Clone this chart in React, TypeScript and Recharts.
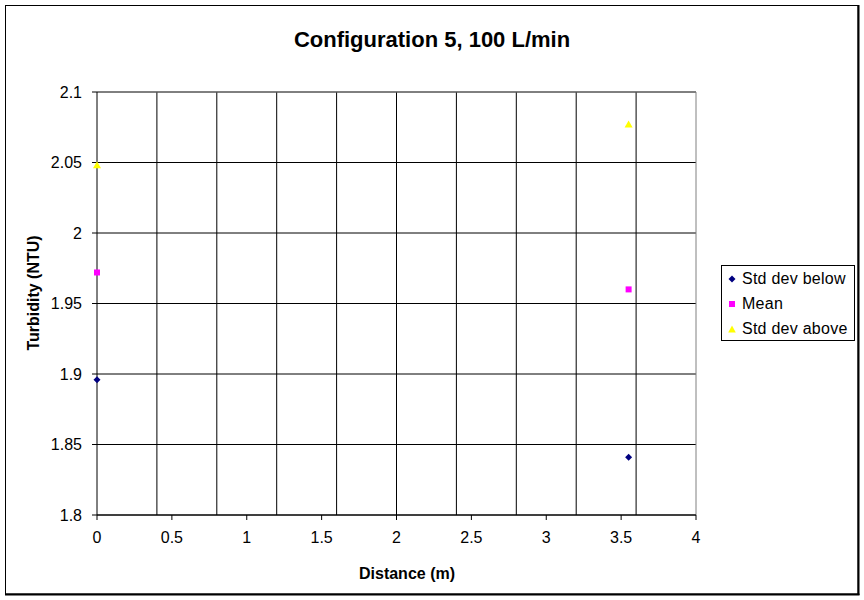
import React from 'react';
import {
  ScatterChart,
  Scatter,
  XAxis,
  YAxis,
  CartesianGrid,
  ReferenceLine,
  Legend,
  Label,
} from 'recharts';

const FONT = '"Liberation Sans", Arial, sans-serif';

const TITLE = 'Configuration 5, 100 L/min';
const X_LABEL = 'Distance (m)';
const Y_LABEL = 'Turbidity (NTU)';

const xTicks = [0, 0.5, 1, 1.5, 2, 2.5, 3, 3.5, 4];
const yTicks = [1.8, 1.85, 1.9, 1.95, 2, 2.05, 2.1];
const xGridLines = [0.4, 0.8, 1.2, 1.6, 2, 2.4, 2.8, 3.2, 3.6];

const distances = [0, 3.55];
const stdBelow = [1.896, 1.841];
const meanValues = [1.972, 1.96];
const stdAbove = [2.048, 2.077];

const SERIES_NAMES = ['Std dev below', 'Mean', 'Std dev above'];
const SERIES_COLORS = ['#000080', '#FF00FF', '#FFFF00'];

const toPoints = (ys: number[]) => distances.map((x, i) => ({ x, y: ys[i] }));

const belowData = toPoints(stdBelow);
const meanData = toPoints(meanValues);
const aboveData = toPoints(stdAbove);

const Diamond = (props: any) => {
  const { cx, cy, fill } = props;
  const r = 3.5;
  return (
    <polygon
      points={`${cx},${cy - r} ${cx + r},${cy} ${cx},${cy + r} ${cx - r},${cy}`}
      fill={fill}
    />
  );
};

const Square = (props: any) => {
  const { cx, cy, fill } = props;
  return <rect x={cx - 3} y={cy - 3} width={6} height={6} fill={fill} />;
};

const Triangle = (props: any) => {
  const { cx, cy, fill } = props;
  return (
    <polygon
      points={`${cx},${cy - 4} ${cx + 4},${cy + 3} ${cx - 4},${cy + 3}`}
      fill={fill}
    />
  );
};

const LegendIcon = ({ index, color }: { index: number; color: string }) => (
  <svg width={8} height={8} style={{ display: 'block' }}>
    {index === 0 && <polygon points="4,0.5 7.5,4 4,7.5 0.5,4" fill={color} />}
    {index === 1 && <rect x={1} y={1} width={6} height={6} fill={color} />}
    {index === 2 && <polygon points="4,0.5 7.8,7.5 0.2,7.5" fill={color} />}
  </svg>
);

const renderLegend = (props: any) => {
  const payload = [...(props.payload || [])].sort(
    (a: any, b: any) => SERIES_NAMES.indexOf(a.value) - SERIES_NAMES.indexOf(b.value)
  );
  return (
    <div
      style={{
        border: '1px solid #000',
        background: '#fff',
        width: 132,
        height: 74,
        boxSizing: 'content-box',
        fontFamily: FONT,
        fontSize: 16,
        color: '#000',
      }}
    >
      {payload.map((entry: any) => (
        <div
          key={entry.value}
          style={{
            display: 'flex',
            alignItems: 'center',
            height: 25,
            paddingLeft: 6,
            whiteSpace: 'nowrap',
          }}
        >
          <LegendIcon index={SERIES_NAMES.indexOf(entry.value)} color={entry.color} />
          <span style={{ marginLeft: 6, letterSpacing: 0.25 }}>{entry.value}</span>
        </div>
      ))}
    </div>
  );
};

export default function App() {
  return (
    <div
      style={{
        position: 'absolute',
        left: 0,
        top: 0,
        width: 864,
        height: 600,
        background: '#fff',
      }}
    >
      <ScatterChart
        width={864}
        height={600}
        margin={{ top: 92, right: 168, bottom: 55, left: 37 }}
      >
        <CartesianGrid vertical={false} stroke="#000" strokeOpacity={1} />
        {xGridLines.map((v) => (
          <ReferenceLine key={v} x={v} stroke="#000" strokeWidth={1} />
        ))}
        <ReferenceLine y={2.1} stroke="#808080" strokeWidth={1} />
        <ReferenceLine x={4} stroke="#808080" strokeWidth={1} />
        <XAxis
          type="number"
          dataKey="x"
          domain={[0, 4]}
          ticks={xTicks}
          height={30}
          interval={0}
          stroke="#000"
          tickSize={5}
          tickMargin={12}
          tick={{ fill: '#000', fontSize: 16, fontFamily: FONT }}
          tickLine={{ stroke: '#000' }}
          axisLine={{ stroke: '#000' }}
        >
          <Label
            content={() => (
              <text
                x={407}
                y={579}
                textAnchor="middle"
                fontFamily={FONT}
                fontSize={16}
                fontWeight="bold"
                fill="#000"
              >
                {X_LABEL}
              </text>
            )}
          />
        </XAxis>
        <YAxis
          type="number"
          dataKey="y"
          domain={[1.8, 2.1]}
          ticks={yTicks}
          width={60}
          interval={0}
          stroke="#000"
          tickSize={5}
          tickMargin={10}
          tick={{ fill: '#000', fontSize: 16, fontFamily: FONT }}
          tickLine={{ stroke: '#000' }}
          axisLine={{ stroke: '#000' }}
        >
          <Label
            content={() => (
              <text
                x={39}
                y={293}
                transform="rotate(-90 39 293)"
                textAnchor="middle"
                fontFamily={FONT}
                fontSize={16}
                fontWeight="bold"
                fill="#000"
              >
                {Y_LABEL}
              </text>
            )}
          />
        </YAxis>
        <Legend
          layout="horizontal"
          verticalAlign="middle"
          align="center"
          content={renderLegend}
          wrapperStyle={{ left: 721, top: 265, width: 134, height: 76 }}
        />
        <Scatter
          name={SERIES_NAMES[0]}
          data={belowData}
          fill={SERIES_COLORS[0]}
          shape={<Diamond />}
          isAnimationActive={false}
        />
        <Scatter
          name={SERIES_NAMES[1]}
          data={meanData}
          fill={SERIES_COLORS[1]}
          shape={<Square />}
          isAnimationActive={false}
        />
        <Scatter
          name={SERIES_NAMES[2]}
          data={aboveData}
          fill={SERIES_COLORS[2]}
          shape={<Triangle />}
          isAnimationActive={false}
        />
      </ScatterChart>
      <svg
        width={864}
        height={600}
        style={{ position: 'absolute', left: 0, top: 0, pointerEvents: 'none' }}
      >
        <rect x={5.5} y={5.5} width={852.5} height={588.5} fill="none" stroke="#000" strokeWidth={1} />
        <line x1={858.5} y1={5} x2={858.5} y2={595} stroke="#000" strokeWidth={2} />
        <line x1={5} y1={594.5} x2={859.5} y2={594.5} stroke="#000" strokeWidth={2} />
        <text
          x={432}
          y={47}
          textAnchor="middle"
          fontFamily={FONT}
          fontSize={22}
          fontWeight="bold"
          fill="#000"
        >
          {TITLE}
        </text>
      </svg>
    </div>
  );
}
